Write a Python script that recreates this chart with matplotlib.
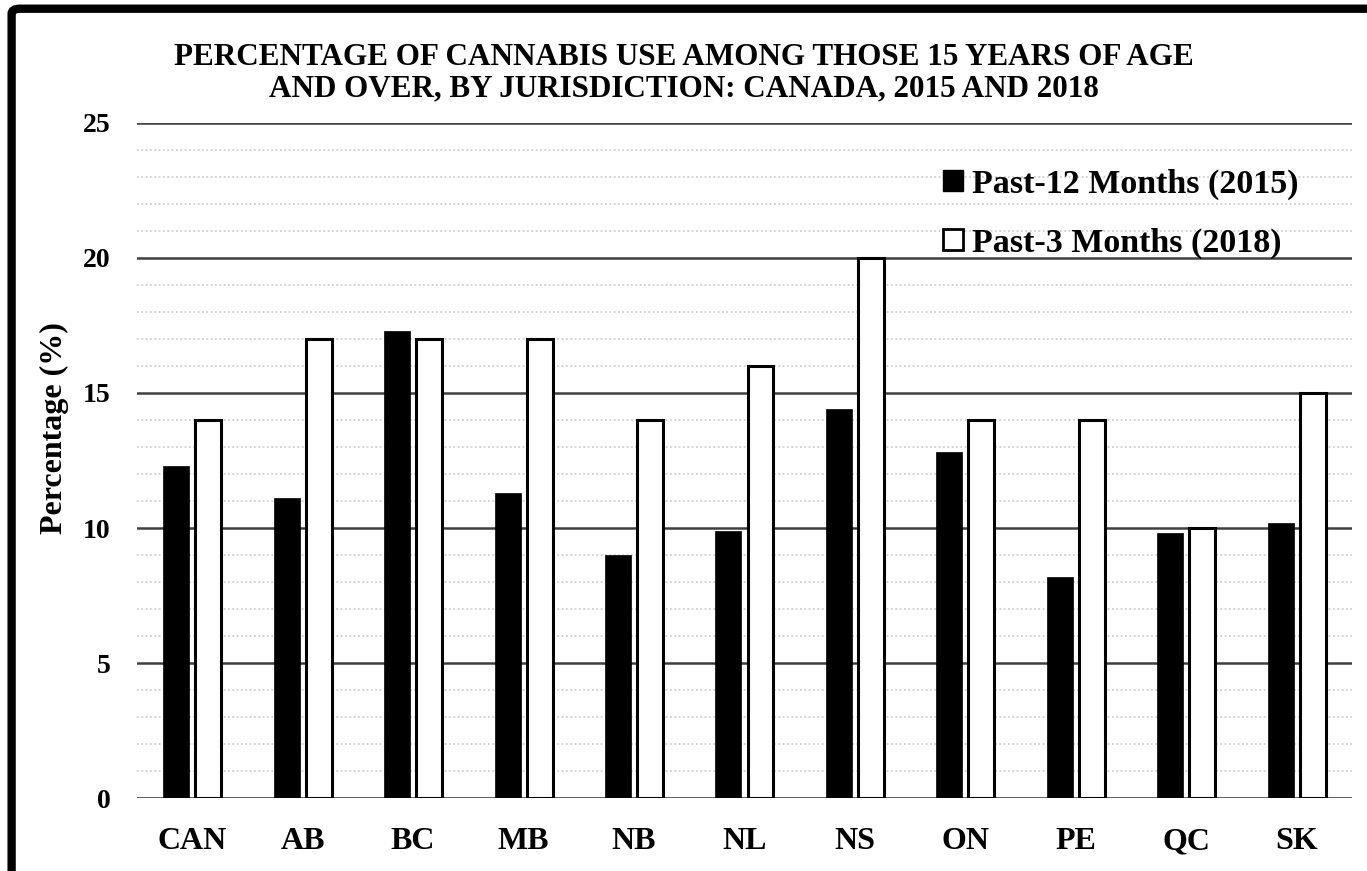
import numpy as np
import matplotlib.pyplot as plt
from matplotlib.patches import Patch, FancyBboxPatch
from matplotlib.ticker import MultipleLocator

jurisdictions = ["CAN", "AB", "BC", "MB", "NB", "NL", "NS", "ON", "PE", "QC", "SK"]
past_12_2015 = [12.3, 11.1, 17.3, 11.3, 9.0, 9.9, 14.4, 12.8, 8.2, 9.8, 10.2]
past_3_2018 = [14, 17, 17, 17, 14, 16, 20, 14, 14, 10, 15]

title = ("PERCENTAGE OF CANNABIS USE AMONG THOSE 15 YEARS OF AGE\n"
         "AND OVER, BY JURISDICTION: CANADA, 2015 AND 2018")
labels = ["Past-12 Months (2015)", "Past-3 Months (2018)"]


def main() -> None:
    plt.rcParams["font.family"] = ["Liberation Serif", "DejaVu Serif"]
    plt.rcParams["font.weight"] = "bold"

    fig = plt.figure(figsize=(13.67, 8.71), dpi=100)
    ax = fig.add_axes([0.1002, 0.0838, 0.8888, 0.775])

    x = np.arange(len(jurisdictions))
    width = 0.235
    offset = 0.145

    ax.bar(x - offset, past_12_2015, width, color="black", edgecolor="black",
           linewidth=0.5, zorder=3)
    ax.bar(x + offset, past_3_2018, width, color="white", edgecolor="black",
           linewidth=2.2, zorder=3)

    ax.set_xlim(-0.5, len(jurisdictions) - 0.5)
    ax.set_ylim(0, 25)
    ax.yaxis.set_major_locator(MultipleLocator(5))
    ax.yaxis.set_minor_locator(MultipleLocator(1))
    ax.set_xticks(x)
    ax.set_xticklabels(jurisdictions)

    # major grid solid, minor grid dotted
    ax.grid(axis="y", which="major", color="#404040", linewidth=1.8, zorder=0)
    ax.grid(axis="y", which="minor", color="#cfcfcf", linewidth=1.3,
            linestyle=(0, (1.0, 1.4)), zorder=0)
    ax.axhline(0, color="#d0d0d0", linewidth=2, zorder=1)

    for side in ("top", "right", "left", "bottom"):
        ax.spines[side].set_visible(False)
    ax.tick_params(axis="both", which="both", length=0)
    ax.tick_params(axis="y", labelsize=20, pad=19)
    ax.tick_params(axis="x", labelsize=23, pad=21)

    ax.set_ylabel("Percentage (%)", fontsize=23, fontweight="bold")
    ax.yaxis.set_label_coords(-0.056, 0.548)
    fig.text(0.5, 0.916, title, ha="center", va="center", fontsize=22.4,
             fontweight="bold", linespacing=1.1)

    handles = [Patch(facecolor="black", edgecolor="black"),
               Patch(facecolor="white", edgecolor="black", linewidth=2)]
    ax.legend(handles, labels, loc="upper right", bbox_to_anchor=(0.981, 0.978),
              frameon=False, fontsize=24.5, handlelength=0.6, handleheight=0.6,
              handletextpad=0.25, labelspacing=0.82)

    # thick rounded frame around the figure
    frame = FancyBboxPatch((0.0085, -0.05), 1.2, 1.04, transform=fig.transFigure,
                           boxstyle="round,pad=0,rounding_size=0.006",
                           facecolor="none", edgecolor="black", linewidth=6,
                           zorder=10)
    fig.patches.append(frame)

    fig.savefig("out.png", dpi=100)


if __name__ == "__main__":
    main()
